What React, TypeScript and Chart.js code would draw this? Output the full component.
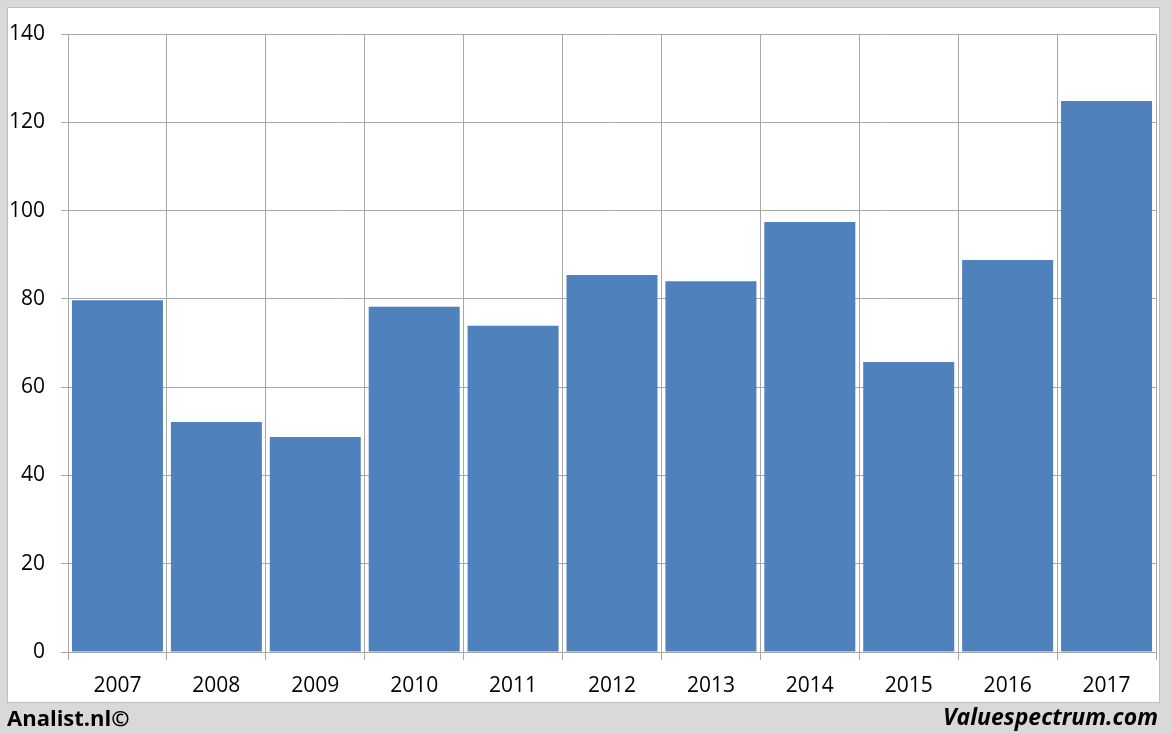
import React, { useEffect, useRef } from "react";
import { Chart, registerables } from "chart.js";

Chart.register(...registerables);

const categories = ["2007", "2008", "2009", "2010", "2011", "2012", "2013", "2014", "2015", "2016", "2017"];
const values = [79.7, 52.1, 48.7, 78.2, 73.9, 85.4, 84.0, 97.4, 65.7, 88.8, 124.8];
const yTicks = [0, 20, 40, 60, 80, 100, 120, 140];

const FONT = "'Open Sans', 'Liberation Sans', sans-serif";

export default function App() {
  const ref = useRef<HTMLCanvasElement | null>(null);

  useEffect(() => {
    const canvas = ref.current;
    if (!canvas) return;
    const chart = new Chart(canvas, {
      type: "bar",
      data: {
        labels: categories,
        datasets: [
          {
            data: values,
            backgroundColor: "#4f81bd",
            borderWidth: 0,
            barPercentage: 0.92,
            categoryPercentage: 1,
          },
        ],
      },
      options: {
        animation: false,
        responsive: false,
        maintainAspectRatio: false,
        layout: { padding: { top: 34, right: 16, bottom: 32, left: 0 } },
        plugins: {
          legend: { display: false },
          tooltip: { enabled: false },
          title: { display: false },
        },
        scales: {
          x: {
            grid: {
              offset: true,
              color: "#a8a8a8",
              lineWidth: 1,
              tickLength: 8,
              drawOnChartArea: true,
            },
            border: { display: true, color: "#a8a8a8" },
            ticks: {
              color: "#000",
              font: { family: FONT, size: 21 },
              padding: 13,
              maxRotation: 0,
              autoSkip: false,
            },
            afterFit: (scale: any) => {
              scale.height = 50;
            },
          },
          y: {
            min: 0,
            max: 140,
            afterBuildTicks: (scale: any) => {
              scale.ticks = yTicks.map((v) => ({ value: v }));
            },
            grid: {
              color: "#a8a8a8",
              lineWidth: 1,
              tickLength: 7,
            },
            border: { display: true, color: "#a8a8a8" },
            ticks: {
              color: "#000",
              font: { family: FONT, size: 21 },
              padding: 16,
            },
            afterFit: (scale: any) => {
              scale.width = 68;
            },
          },
        },
      },
    });
    return () => chart.destroy();
  }, []);

  return (
    <div
      style={{
        position: "absolute",
        left: 0,
        top: 0,
        width: 1172,
        height: 734,
        background: "#d9d9d9",
        overflow: "hidden",
      }}
    >
      <div
        style={{
          position: "absolute",
          left: 7,
          top: 7,
          width: 1151,
          height: 694,
          background: "#fff",
          border: "1px solid #bdbdbd",
        }}
      />
      <canvas
        ref={ref}
        width={1172}
        height={734}
        style={{ position: "absolute", left: 0, top: 0, width: 1172, height: 734 }}
      />
      <div
        style={{
          position: "absolute",
          left: 7,
          top: 702,
          fontFamily: FONT,
          fontWeight: 700,
          fontSize: 22,
          lineHeight: "30px",
          color: "#000",
        }}
      >
        Analist.nl©
      </div>
      <div
        style={{
          position: "absolute",
          right: 14,
          top: 701,
          fontFamily: FONT,
          fontWeight: 700,
          fontStyle: "italic",
          fontSize: 23,
          lineHeight: "30px",
          color: "#000",
        }}
      >
        Valuespectrum.com
      </div>
    </div>
  );
}
